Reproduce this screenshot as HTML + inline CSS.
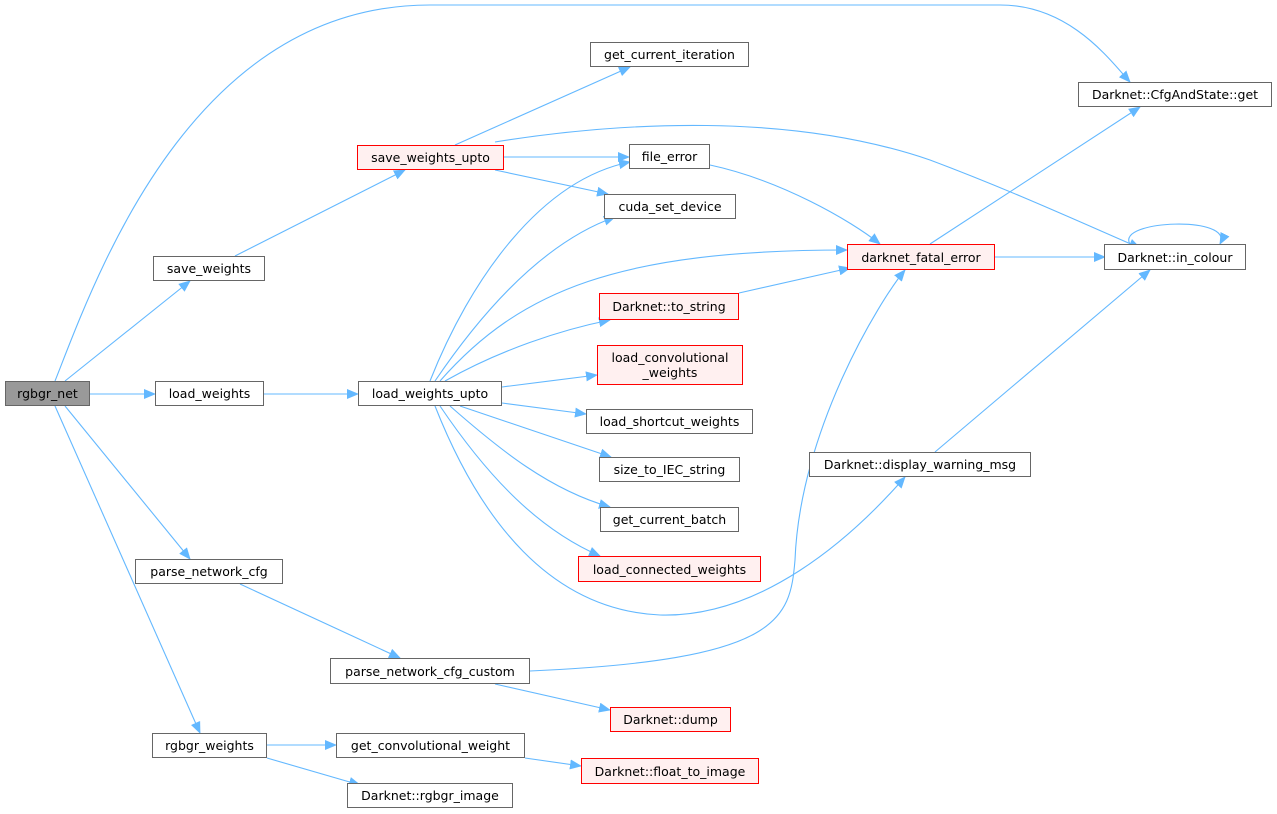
<!DOCTYPE html>
<html><head><meta charset="utf-8"><style>
body{margin:0;width:1277px;height:814px;background:#fff;position:relative;overflow:hidden;font-family:"DejaVu Sans","Liberation Sans",sans-serif;}
.n{position:absolute;box-sizing:border-box;border:1px solid #666;background:#fff;font-size:12.5px;color:#000;display:flex;align-items:center;justify-content:center;text-align:center;line-height:15px;white-space:nowrap}
.r{border-color:#f00;background:#fff0f0}
.g{background:#999}
svg{position:absolute;left:0;top:0}
</style></head><body>
<svg width="1277" height="814" viewBox="0 0 1277 814">
<defs><marker id="a" markerWidth="12" markerHeight="10" refX="11" refY="5" orient="auto" markerUnits="userSpaceOnUse"><path d="M0,0 L12,5 L0,10 z" fill="#63b8ff"/></marker></defs>
<g fill="none" stroke="#63b8ff" stroke-width="1.1" marker-end="url(#a)">
<path d="M55,381 C95,280 190,5 430,5 L1000,5 C1070,5 1110,60 1130,82"/>
<path d="M65,381 L190,281"/>
<path d="M90,394 L155,394"/>
<path d="M65,406 L190,559"/>
<path d="M55,406 L200,733"/>
<path d="M235,256 L405,170"/>
<path d="M264,394 L358,394"/>
<path d="M455,145 L630,67"/>
<path d="M504,157 L629,157"/>
<path d="M495,170 L608,194"/>
<path d="M495,142 C620,122 790,112 930,160 C1010,190 1080,222 1140,248"/>
<path d="M430,381 C470,280 540,180 630,162"/>
<path d="M435,381 C490,300 550,240 615,217"/>
<path d="M440,381 C520,290 620,250 847,250"/>
<path d="M445,381 C500,350 560,330 610,320"/>
<path d="M502,387 L597,375"/>
<path d="M502,403 L586,414"/>
<path d="M460,406 L611,457"/>
<path d="M450,406 C500,450 550,490 610,507"/>
<path d="M440,406 C490,480 540,530 600,556"/>
<path d="M435,406 C480,520 550,610 660,615 C760,618 850,540 905,477"/>
<path d="M710,165 C780,180 850,220 880,244"/>
<path d="M739,293 L850,268"/>
<path d="M930,244 L1140,107"/>
<path d="M995,257 L1105,257"/>
<path d="M1130,244 C1115,220 1235,215 1220,244"/>
<path d="M935,452 L1150,270"/>
<path d="M240,584 L400,658"/>
<path d="M530,671 C780,660 790,620 795,560 C800,430 880,300 905,270"/>
<path d="M495,684 L610,710"/>
<path d="M267,745 L336,745"/>
<path d="M267,758 L360,785"/>
<path d="M525,758 L581,766"/>
</g></svg>
<div class="n g" style="left:5px;top:381px;width:85px;height:25px">rgbgr_net</div>
<div class="n" style="left:155px;top:381px;width:109px;height:25px">load_weights</div>
<div class="n" style="left:358px;top:381px;width:144px;height:25px">load_weights_upto</div>
<div class="n" style="left:153px;top:256px;width:112px;height:25px">save_weights</div>
<div class="n r" style="left:357px;top:145px;width:147px;height:25px">save_weights_upto</div>
<div class="n" style="left:590px;top:42px;width:159px;height:25px">get_current_iteration</div>
<div class="n" style="left:1078px;top:82px;width:194px;height:25px">Darknet::CfgAndState::get</div>
<div class="n" style="left:629px;top:144px;width:81px;height:25px">file_error</div>
<div class="n" style="left:604px;top:194px;width:132px;height:25px">cuda_set_device</div>
<div class="n r" style="left:847px;top:244px;width:148px;height:26px">darknet_fatal_error</div>
<div class="n" style="left:1104px;top:244px;width:142px;height:26px">Darknet::in_colour</div>
<div class="n r" style="left:599px;top:293px;width:140px;height:27px">Darknet::to_string</div>
<div class="n r" style="left:597px;top:345px;width:146px;height:40px">load_convolutional<br>_weights</div>
<div class="n" style="left:586px;top:409px;width:167px;height:25px">load_shortcut_weights</div>
<div class="n" style="left:599px;top:457px;width:141px;height:25px">size_to_IEC_string</div>
<div class="n" style="left:600px;top:507px;width:139px;height:25px">get_current_batch</div>
<div class="n r" style="left:578px;top:556px;width:183px;height:26px">load_connected_weights</div>
<div class="n" style="left:809px;top:452px;width:222px;height:25px">Darknet::display_warning_msg</div>
<div class="n" style="left:135px;top:559px;width:148px;height:25px">parse_network_cfg</div>
<div class="n" style="left:330px;top:658px;width:200px;height:26px">parse_network_cfg_custom</div>
<div class="n r" style="left:610px;top:707px;width:121px;height:25px">Darknet::dump</div>
<div class="n" style="left:152px;top:733px;width:115px;height:25px">rgbgr_weights</div>
<div class="n" style="left:336px;top:733px;width:189px;height:25px">get_convolutional_weight</div>
<div class="n r" style="left:581px;top:758px;width:178px;height:26px">Darknet::float_to_image</div>
<div class="n" style="left:347px;top:783px;width:166px;height:25px">Darknet::rgbgr_image</div>
</body></html>
